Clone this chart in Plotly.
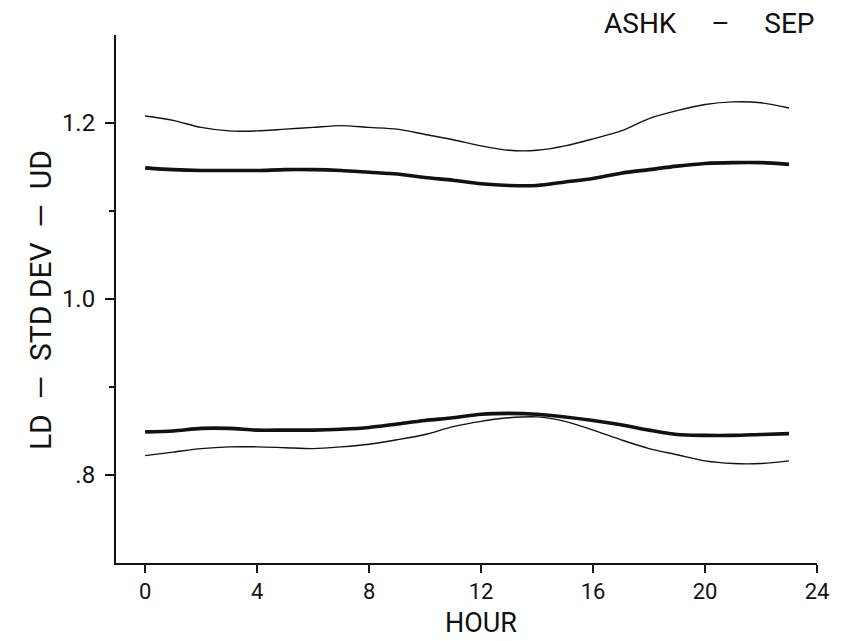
import plotly.graph_objects as go

hours = list(range(24))

ud_thin = [1.208, 1.203, 1.195, 1.191, 1.191, 1.193, 1.195, 1.197, 1.195, 1.193,
           1.187, 1.181, 1.174, 1.169, 1.169, 1.174, 1.182, 1.191, 1.205, 1.214,
           1.221, 1.224, 1.223, 1.217]
ud_thick = [1.149, 1.147, 1.146, 1.146, 1.146, 1.147, 1.147, 1.146, 1.144, 1.142,
            1.138, 1.135, 1.131, 1.129, 1.129, 1.133, 1.137, 1.143, 1.147, 1.151,
            1.154, 1.155, 1.155, 1.153]
ld_thick = [0.849, 0.850, 0.853, 0.853, 0.851, 0.851, 0.851, 0.852, 0.854, 0.858,
            0.862, 0.865, 0.869, 0.870, 0.869, 0.866, 0.862, 0.857, 0.851, 0.846,
            0.845, 0.845, 0.846, 0.847]
ld_thin = [0.822, 0.826, 0.830, 0.832, 0.832, 0.831, 0.830, 0.832, 0.835, 0.840,
           0.846, 0.855, 0.861, 0.865, 0.866, 0.861, 0.851, 0.840, 0.830, 0.823,
           0.816, 0.813, 0.813, 0.816]

x_ticks = [0, 4, 8, 12, 16, 20, 24]
y_ticks = [0.8, 1.0, 1.2]
y_tick_labels = [".8", "1.0", "1.2"]
y_minor_ticks = [0.9, 1.1]

FONT = "Roboto, DejaVu Sans, sans-serif"
INK = "#111111"
NB = "\u00a0"

fig = go.Figure()
for vals, w in [(ud_thin, 1.4), (ud_thick, 3.6), (ld_thick, 3.6), (ld_thin, 1.4)]:
    fig.add_trace(go.Scatter(x=hours, y=vals, mode="lines",
                             line=dict(color=INK, width=w, shape="spline", smoothing=0.8),
                             showlegend=False, hoverinfo="skip"))

fig.update_layout(
    width=841, height=633,
    margin=dict(l=108, r=32, t=27, b=78),
    paper_bgcolor="white", plot_bgcolor="white",
    font=dict(family=FONT, size=24, color=INK),
    xaxis=dict(range=[-1.04, 24], tickvals=x_ticks, ticks="outside", ticklen=8,
               tickwidth=1.5, tickcolor=INK, showline=True, linecolor=INK,
               linewidth=2, showgrid=False, zeroline=False,
               tickfont=dict(family=FONT, size=22, color=INK)),
    yaxis=dict(range=[0.7, 1.3], tickvals=y_ticks, ticktext=y_tick_labels,
               ticks="outside", ticklen=9, tickwidth=1.5, tickcolor=INK,
               showline=True, linecolor=INK, linewidth=2, showgrid=False,
               zeroline=False, ticklabelstandoff=5,
               tickfont=dict(family=FONT, size=24, color=INK),
               minor=dict(tickvals=y_minor_ticks, ticks="outside", ticklen=5,
                          tickwidth=1.5, tickcolor=INK)),
    annotations=[
        dict(text="ASHK" + NB * 5 + "\u2013" + NB * 5 + "SEP", xref="paper", yref="paper",
             x=0.9986, y=1.021, xanchor="right", yanchor="middle",
             showarrow=False, font=dict(family=FONT, size=28, color=INK)),
        dict(text="HOUR", xref="x", yref="paper", x=12, y=-0.1136, xanchor="center",
             yanchor="middle", showarrow=False, font=dict(family=FONT, size=27, color=INK)),
        dict(text="LD" + NB * 2 + "\u2014" + NB * 2 + "STD DEV" + NB * 2 + "\u2014" + NB * 2 + "UD",
             xref="paper", yref="paper", x=-0.1084, y=0.498,
             xanchor="center", yanchor="middle", textangle=-90,
             showarrow=False, font=dict(family=FONT, size=30, color=INK)),
    ],
)

fig.write_html("out.html")
